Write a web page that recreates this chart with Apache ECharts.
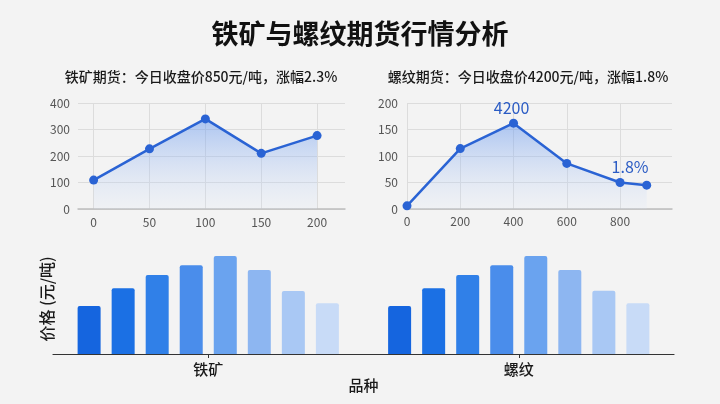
<!DOCTYPE html>
<html>
<head>
<meta charset="utf-8">
<script src="https://cdn.jsdelivr.net/npm/echarts@6/dist/echarts.min.js"></script>
<style>
html,body{margin:0;padding:0;background:#f3f3f3;}
#main{width:720px;height:404px;}
</style>
</head>
<body>
<div id="main"></div>
<script>
// ---- data ----
const mainTitle = '铁矿与螺纹期货行情分析';
const ironSubtitle = '铁矿期货：今日收盘价850元/吨，涨幅2.3%';
const rebarSubtitle = '螺纹期货：今日收盘价4200元/吨，涨幅1.8%';

const ironX = [0, 50, 100, 150, 200];
const ironY = [109, 227, 340, 210, 277];
const ironXTicks = [0, 50, 100, 150, 200];

const rebarX = [0, 200, 400, 600, 800, 900];
const rebarY = [6, 114, 162, 86, 50, 45];
const rebarLabels = ['', '', '4200', '', '1.8%', ''];
const rebarXTicks = [0, 200, 400, 600, 800];

const categories = ['铁矿', '螺纹'];
const barSeriesValues = [
  [480, 480],
  [657, 657],
  [790, 790],
  [887, 887],
  [980, 980],
  [840, 840],
  [630, 632],
  [507, 507]
];
const barColors = ['#1565df', '#1b70e4', '#3080e8', '#4a8deb', '#6aa3ef', '#8db6f1', '#a9c8f4', '#c8dbf7'];

// ---- chart ----
const chart = echarts.init(document.getElementById('main'));
const font = '"Noto Sans CJK SC", "Noto Sans", sans-serif';

const areaGrad = new echarts.graphic.LinearGradient(0, 0, 0, 1, [
  { offset: 0, color: 'rgba(100,150,238,0.72)' },
  { offset: 1, color: 'rgba(215,228,250,0.2)' }
]);

function lineAxisCommon() {
  return {
    axisLine: { show: true, lineStyle: { color: '#bdbdbd', width: 1.5 } },
    axisTick: { show: false },
    axisLabel: { color: '#555', fontSize: 12, fontFamily: font },
    splitLine: { show: true, lineStyle: { color: '#dcdcdc', width: 1 } }
  };
}

const option = {
  backgroundColor: '#f3f3f3',
  textStyle: { fontFamily: font },
  title: [
    { text: mainTitle, left: 'center', top: 15,
      textStyle: { fontSize: 27, fontWeight: 'bold', color: '#111', fontFamily: font } },
    { text: ironSubtitle, left: 196, top: 65, textAlign: 'center',
      textStyle: { fontSize: 14, fontWeight: 500, color: '#1a1a1a', fontFamily: font } },
    { text: rebarSubtitle, left: 523, top: 65, textAlign: 'center',
      textStyle: { fontSize: 14, fontWeight: 500, color: '#1a1a1a', fontFamily: font } }
  ],
  grid: [
    { left: 78, right: 375, top: 103, bottom: 195 },
    { left: 407, right: 48, top: 103, bottom: 195 },
    { left: 53, right: 46, top: 254, bottom: 50 }
  ],
  xAxis: [
    Object.assign(lineAxisCommon(), {
      gridIndex: 0, type: 'value', min: -14, max: 225,
      axisLabel: { color: '#555', fontSize: 12, margin: 7, fontFamily: font, customValues: ironXTicks },
      axisTick: { show: false, customValues: ironXTicks }
    }),
    Object.assign(lineAxisCommon(), {
      gridIndex: 1, type: 'value', min: 0, max: 995,
      axisLabel: { color: '#555', fontSize: 12, margin: 6, fontFamily: font, customValues: rebarXTicks },
      axisTick: { show: false, customValues: rebarXTicks }
    }),
    {
      gridIndex: 2, type: 'category', data: categories,
      axisLine: { show: true, lineStyle: { color: '#333', width: 1.2 } },
      axisTick: { show: true, alignWithLabel: true, length: 4, lineStyle: { color: '#333' } },
      axisLabel: { color: '#1a1a1a', fontSize: 15, fontWeight: 500, margin: 8, fontFamily: font },
      name: '品种', nameLocation: 'middle', nameGap: 24,
      nameTextStyle: { color: '#1a1a1a', fontSize: 15, fontWeight: 500, fontFamily: font }
    }
  ],
  yAxis: [
    Object.assign(lineAxisCommon(), {
      gridIndex: 0, type: 'value', min: 0, max: 400, interval: 100,
      axisLine: { show: false }, axisLabel: { color: '#555', fontSize: 12, margin: 8, fontFamily: font }
    }),
    Object.assign(lineAxisCommon(), {
      gridIndex: 1, type: 'value', min: 0, max: 200, interval: 50,
      axisLine: { show: false }, axisLabel: { color: '#555', fontSize: 12, margin: 9, fontFamily: font }
    }),
    {
      gridIndex: 2, type: 'value', min: 0, max: 1000,
      axisLine: { show: false }, axisTick: { show: false }, axisLabel: { show: false },
      splitLine: { show: false },
      name: '价格 (元/吨)', nameLocation: 'middle', nameGap: -2, nameRotate: 90,
      nameTextStyle: { color: '#1a1a1a', fontSize: 16, fontWeight: 500, fontFamily: font, padding: [0, 0, 0, 10] }
    }
  ],
  series: [
    {
      type: 'line', xAxisIndex: 0, yAxisIndex: 0,
      data: ironX.map((x, i) => [x, ironY[i]]),
      symbol: 'circle', symbolSize: 9,
      lineStyle: { color: '#2a63d4', width: 2.5 },
      itemStyle: { color: '#2a63d4' },
      areaStyle: { color: areaGrad }
    },
    {
      type: 'line', xAxisIndex: 1, yAxisIndex: 1,
      data: rebarX.map((x, i) => ({
        value: [x, rebarY[i]],
        label: rebarLabels[i] ? {
          show: true, formatter: rebarLabels[i], position: 'top', distance: 3,
          offset: rebarLabels[i] === '1.8%' ? [10, 0] : [-2, 0],
          color: '#2a5bc4', fontSize: 16, fontFamily: font
        } : { show: false }
      })),
      symbol: 'circle', symbolSize: 9,
      lineStyle: { color: '#2a63d4', width: 2.5 },
      itemStyle: { color: '#2a63d4' },
      areaStyle: { color: areaGrad }
    }
  ].concat(barSeriesValues.map((vals, i) => ({
    type: 'bar', xAxisIndex: 2, yAxisIndex: 2,
    data: vals, barWidth: 23, barGap: '48%',
    itemStyle: { color: barColors[i], borderRadius: [2, 2, 0, 0] }
  })))
};
chart.setOption(option);
</script>
</body>
</html>
